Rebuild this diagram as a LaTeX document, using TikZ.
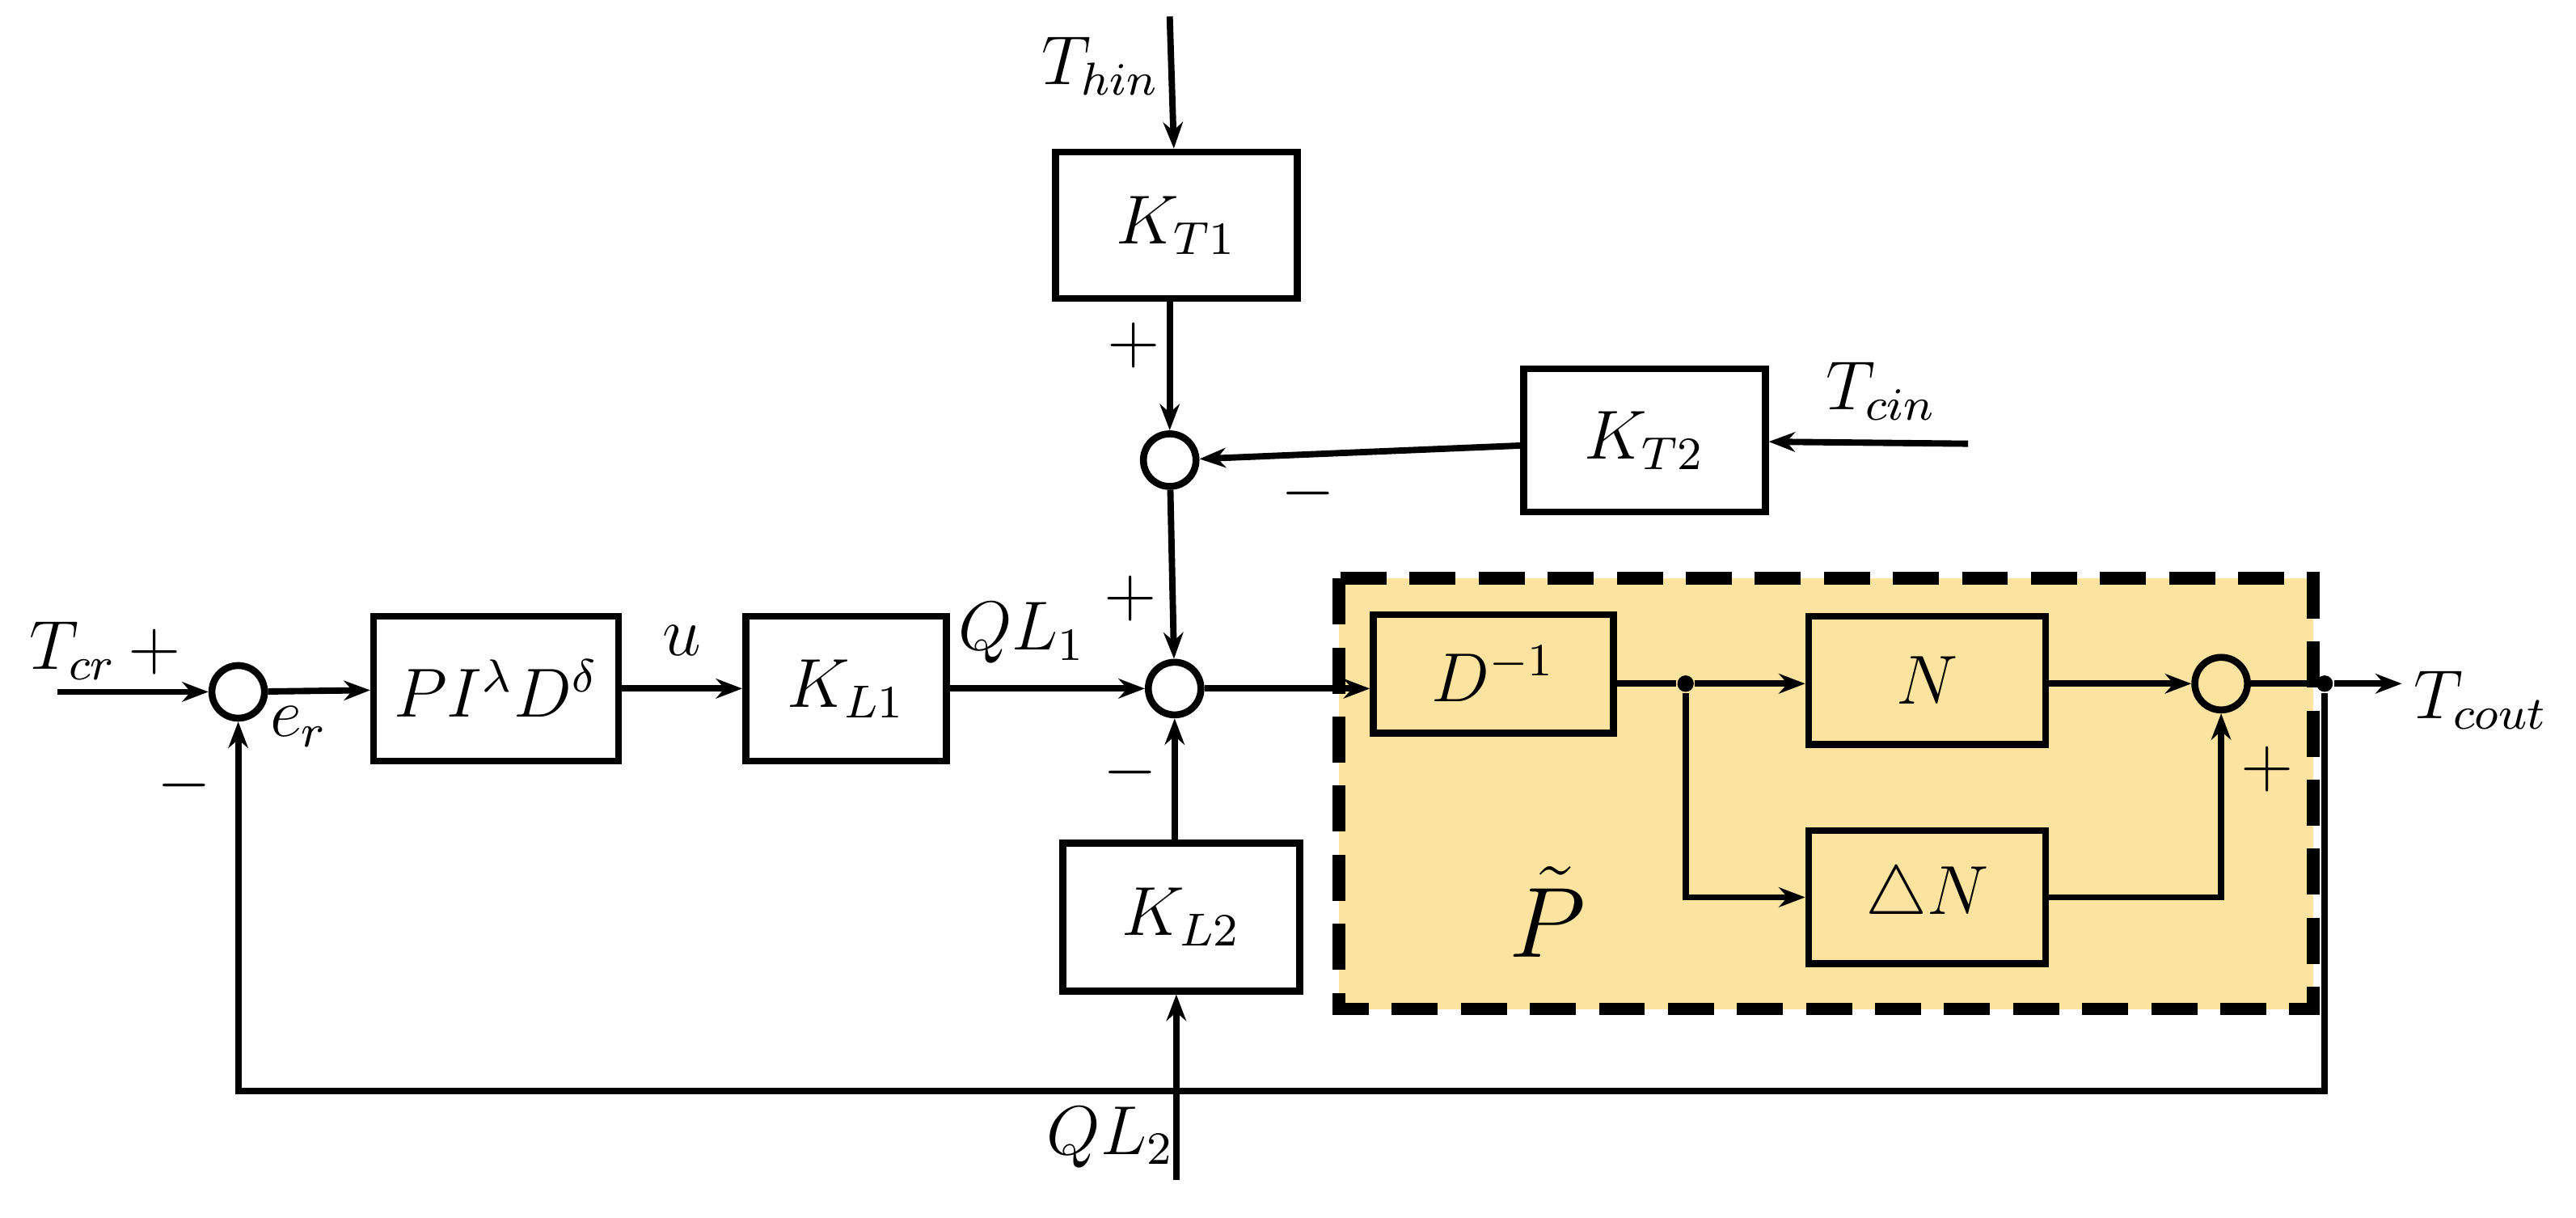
\documentclass[tikz,border=0pt]{standalone}
\usetikzlibrary{arrows.meta}
\begin{document}
\begin{tikzpicture}[x=0.01cm,y=-0.01cm,
  blk/.style={draw,line width=1.2pt,minimum width=#1,inner sep=0pt},
  sum/.style={draw,circle,line width=1.2pt,minimum size=0.32cm,inner sep=0pt},
  dot/.style={circle,fill,minimum size=0.1cm,inner sep=0pt},
  ar/.style={-{Stealth[length=0.16cm,width=0.12cm]},line width=1.1pt},
  ln/.style={line width=1.1pt},
  lb/.style={font=\large}]
\useasboundingbox (0,0) rectangle (1568,741);
\fill[yellow!45!orange!35!white,draw=black,line width=2.2pt,dash pattern=on 0.28cm off 0.14cm] (815,352) rectangle (1408,614);
\node[sum] (s1) at (145,421) {};
\node[blk=1.49cm,minimum height=0.88cm,font=\large] (pid) at (302,419) {$PI^{\lambda}D^{\delta}$};
\node[blk=1.22cm,minimum height=0.88cm,font=\large] (kl1) at (515,419) {$K_{L1}$};
\node[sum] (s2) at (715,419) {};
\node[sum] (s3) at (712,280) {};
\node[blk=1.47cm,minimum height=0.89cm,font=\large] (kt1) at (716,137) {$K_{T1}$};
\node[blk=1.47cm,minimum height=0.87cm,font=\large] (kt2) at (1001,268) {$K_{T2}$};
\node[blk=1.44cm,minimum height=0.9cm,font=\large] (kl2) at (719,558) {$K_{L2}$};
\node[blk=1.46cm,minimum height=0.72cm,font=\large] (dinv) at (909,410) {$D^{-1}$};
\node[blk=1.44cm,minimum height=0.78cm,font=\large] (n) at (1173,414) {$N$};
\node[blk=1.44cm,minimum height=0.81cm,font=\large] (dn) at (1173,546) {$\triangle N$};
\node[sum] (s4) at (1352,416) {};
\node[dot] (d1) at (1026,416) {};
\node[dot] (d2) at (1415,416) {};
\coordinate (in) at (35,421);
\coordinate (out) at (1462,416);
\coordinate (thin) at (712,10);
\coordinate (tcin) at (1198,270);
\coordinate (ql2) at (716,718);
\coordinate (fb1) at (1415,664);
\coordinate (fb2) at (145,664);
\draw[ar] (in) -- (s1);
\draw[ar] (s1) -- (pid);
\draw[ar] (pid) -- (kl1);
\draw[ar] (kl1) -- (s2);
\draw[ar] (thin) -- (kt1);
\draw[ar] (kt1.south -| s3) -- (s3);
\draw[ar] (tcin) -- (kt2);
\draw[ar] (kt2) -- (s3);
\draw[ar] (s3) -- (s2);
\draw[ar] (kl2.north -| s2) -- (s2);
\draw[ar] (ql2) -- (ql2 |- kl2.south);
\draw[ar] (s2.east) -- (dinv.west |- s2);
\draw[ln] (dinv.east |- d1) -- (d1);
\draw[ar] (d1) -- (d1 -| n.west);
\draw[ar] (d1) |- (dn);
\draw[ar] (n.east |- s4) -- (s4);
\draw[ar] (dn) -| (s4);
\draw[ln] (s4) -- (d2);
\draw[ar] (d2) -- (out);
\draw[ar] (d2) -- (fb1) -- (fb2) -- (s1);
\node[lb] at (64,396) {$T_{cr}\,{+}$};
\node[lb] at (182,442) {$e_r$};
\node[lb] at (415,390) {$u$};
\node[lb] at (622,385) {$QL_1$};
\node[lb] at (688,364) {$+$};
\node[lb] at (688,470) {$-$};
\node[lb] at (690,210) {$+$};
\node[lb] at (796,300) {$-$};
\node[lb] at (112,478) {$-$};
\node[lb] at (1380,468) {$+$};
\node[lb] at (670,40) {$T_{hin}$};
\node[lb] at (1145,238) {$T_{cin}$};
\node[lb] at (676,692) {$QL_2$};
\node[lb] at (1510,426) {$T_{cout}$};
\node[font=\LARGE] at (942,555) {$\tilde{P}$};
\end{tikzpicture}
\end{document}
